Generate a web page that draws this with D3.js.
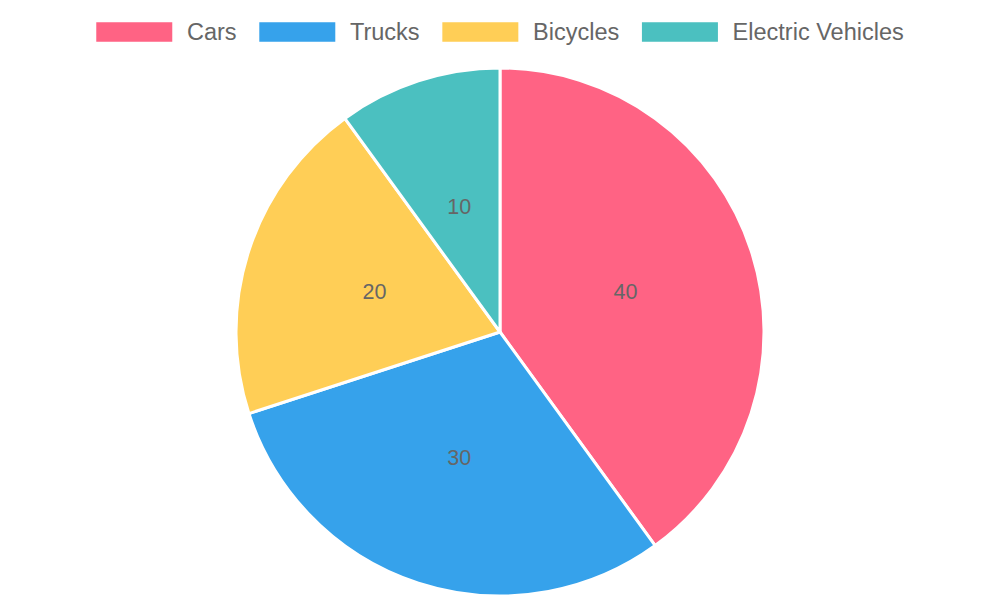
<!DOCTYPE html>
<html>
<head>
<meta charset="utf-8">
<script src="https://cdn.jsdelivr.net/npm/d3@7"></script>
<style>
html,body{margin:0;padding:0;background:#fff;}
svg{display:block;font-family:"Liberation Sans",Arial,Helvetica,sans-serif;}
</style>
</head>
<body>
<svg id="chart" width="1000" height="600"></svg>
<script>
const categories = ["Cars", "Trucks", "Bicycles", "Electric Vehicles"];
const values = [40, 30, 20, 10];
const colors = ["#FF6384", "#36A2EB", "#FFCE56", "#4BC0C0"];

const svg = d3.select("#chart");
const W = 1000, H = 600;

// Legend
const legendFont = 23.5, boxW = 76, boxH = 19.5, boxGap = 14.7, itemGap = 22.7, legendY = 32;
const legend = svg.append("g");
const items = legend.selectAll("g").data(categories).join("g");
items.append("rect").attr("width", boxW).attr("height", boxH).attr("y", legendY - boxH / 2)
  .attr("fill", (d, i) => colors[i]);
items.append("text").attr("x", boxW + boxGap).attr("y", legendY).attr("dy", "0.35em")
  .attr("font-size", legendFont).attr("fill", "#666").text(d => d);
let widths = [];
items.each(function () {
  const t = d3.select(this).select("text").node().getComputedTextLength();
  widths.push(boxW + boxGap + t);
});
const total = d3.sum(widths) + itemGap * (widths.length - 1);
let x0 = (W - total) / 2;
items.attr("transform", (d, i) => {
  const x = x0 + d3.sum(widths.slice(0, i)) + itemGap * i;
  return `translate(${x},0)`;
});

// Pie
const cx = 500, cy = 332, r = 264;
const pie = d3.pie().sort(null).value(d => d.v);
const data = categories.map((c, i) => ({ c, v: values[i], col: colors[i] }));
const arcs = pie(data);
const arc = d3.arc().innerRadius(0).outerRadius(r);
const labelArc = d3.arc().innerRadius(r / 2).outerRadius(r / 2);
const g = svg.append("g").attr("transform", `translate(${cx},${cy})`);
g.selectAll("path").data(arcs).join("path")
  .attr("d", arc).attr("fill", d => d.data.col)
  .attr("stroke", "#fff").attr("stroke-width", 3).attr("stroke-linejoin", "round");
g.selectAll("text").data(arcs).join("text")
  .attr("transform", d => `translate(${labelArc.centroid(d)})`)
  .attr("text-anchor", "middle").attr("dy", "0.35em")
  .attr("font-size", 21.5).attr("fill", "#666")
  .text(d => d.data.v);
</script>
</body>
</html>
